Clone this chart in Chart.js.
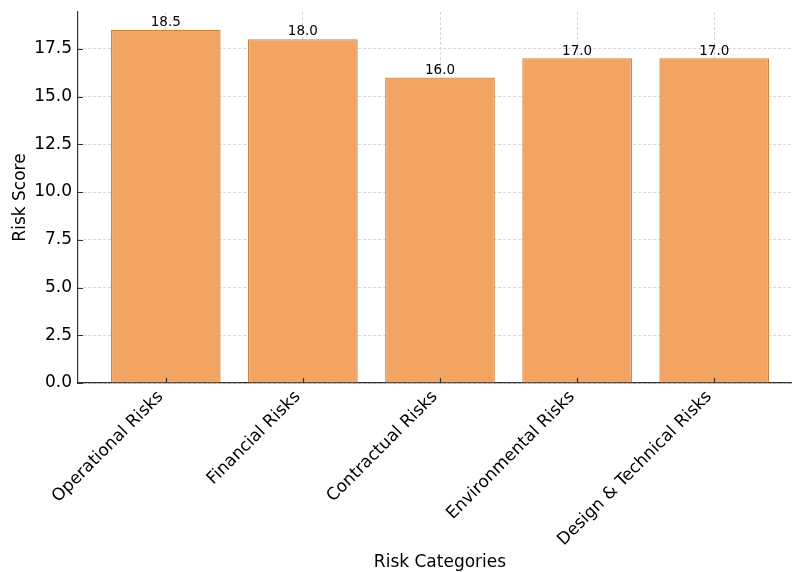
<!DOCTYPE html>
<html>
<head>
<meta charset="utf-8">
<script src="https://cdn.jsdelivr.net/npm/chart.js@4/dist/chart.umd.min.js"></script>
<style>
html,body{margin:0;padding:0;overflow:hidden;background:#fff;width:792px;height:572px;}
canvas{display:block;}
</style>
</head>
<body>
<canvas id="c" width="810" height="572"></canvas>
<script>
const categories = ["Operational Risks", "Financial Risks", "Contractual Risks", "Environmental Risks", "Design & Technical Risks"];
const riskScores = [18.5, 18.0, 16.0, 17.0, 17.0];
const yTickValues = [0, 2.5, 5, 7.5, 10, 12.5, 15, 17.5];

const FONT = "'DejaVu Sans', sans-serif";

const labelsPlugin = {
  id: 'valueLabels',
  afterDatasetsDraw(chart) {
    const ctx = chart.ctx;
    const meta = chart.getDatasetMeta(0);
    ctx.save();
    ctx.font = "13.5px " + FONT;
    ctx.fillStyle = '#000';
    ctx.textAlign = 'center';
    ctx.textBaseline = 'bottom';
    meta.data.forEach((bar, i) => {
      ctx.fillText(riskScores[i].toFixed(1), bar.x, bar.y - 0.5);
    });
    ctx.restore();
  },
  afterDraw(chart) {
    const ctx = chart.ctx;
    const xs = chart.scales.x, ys = chart.scales.y;
    const a = chart.chartArea;
    ctx.save();
    ctx.strokeStyle = '#333';
    ctx.lineWidth = 1.2;
    ctx.beginPath();
    categories.forEach((c, i) => {
      const px = Math.round(xs.getPixelForValue(i)) + 0.5;
      ctx.moveTo(px, a.bottom);
      ctx.lineTo(px, a.bottom - 5);
    });
    yTickValues.forEach(v => {
      const py = Math.round(ys.getPixelForValue(v)) + 0.5;
      ctx.moveTo(a.left, py);
      ctx.lineTo(a.left + 5, py);
    });
    ctx.stroke();
    ctx.restore();
  }
};

new Chart(document.getElementById('c'), {
  type: 'bar',
  data: {
    datasets: [{
      data: categories.map((c, i) => ({x: i, y: riskScores[i]})),
      backgroundColor: '#f2a462',
      borderColor: '#d0823f',
      borderWidth: 1.3,
      barPercentage: 0.8,
      categoryPercentage: 1.0
    }]
  },
  options: {
    responsive: false,
    animation: false,
    layout: { padding: { left: 0, right: 8, top: 12, bottom: 0 } },
    plugins: { legend: { display: false }, tooltip: { enabled: false } },
    scales: {
      x: {
        type: 'linear',
        min: -0.64,
        max: 4.64,
        offset: false,
        z: 1,
        afterBuildTicks(scale) { scale.ticks = categories.map((c, i) => ({value: i})); },
        afterFit(scale) { scale.height = 189; scale.paddingLeft = 0; scale.paddingRight = 0; },
        ticks: {
          autoSkip: false,
          maxRotation: 45,
          minRotation: 45,
          labelOffset: -5,
          padding: 4,
          color: '#000',
          font: { family: FONT, size: 17 },
          callback: (v) => categories[v]
        },
        grid: {
          color: '#cccccc',
          lineWidth: 0.8,
          offset: false,
          drawTicks: false,
          tickLength: 0
        },
        border: { display: true, color: '#333', width: 1.2, dash: [3, 2] },
        title: {
          display: true,
          text: 'Risk Categories',
          color: '#000',
          font: { family: FONT, size: 17 },
          padding: { top: 0, bottom: -1 }
        }
      },
      y: {
        min: 0,
        max: 19.425,
        z: 1,
        afterBuildTicks(scale) { scale.ticks = yTickValues.map(v => ({value: v})); },
        afterFit(scale) { scale.width = 78; scale.paddingTop = 0; scale.paddingBottom = 0; },
        ticks: {
          color: '#000',
          padding: 6,
          font: { family: FONT, size: 17 },
          callback: (v) => Number(v).toFixed(1)
        },
        grid: {
          color: '#cccccc',
          lineWidth: 0.8,
          drawTicks: false,
          tickLength: 0
        },
        border: { display: true, color: '#333', width: 1.2, dash: [3, 2] },
        title: {
          display: true,
          text: 'Risk Score',
          color: '#000',
          font: { family: FONT, size: 17 },
          padding: { top: 10, bottom: 6 }
        }
      }
    }
  },
  plugins: [labelsPlugin]
});
</script>
</body>
</html>
